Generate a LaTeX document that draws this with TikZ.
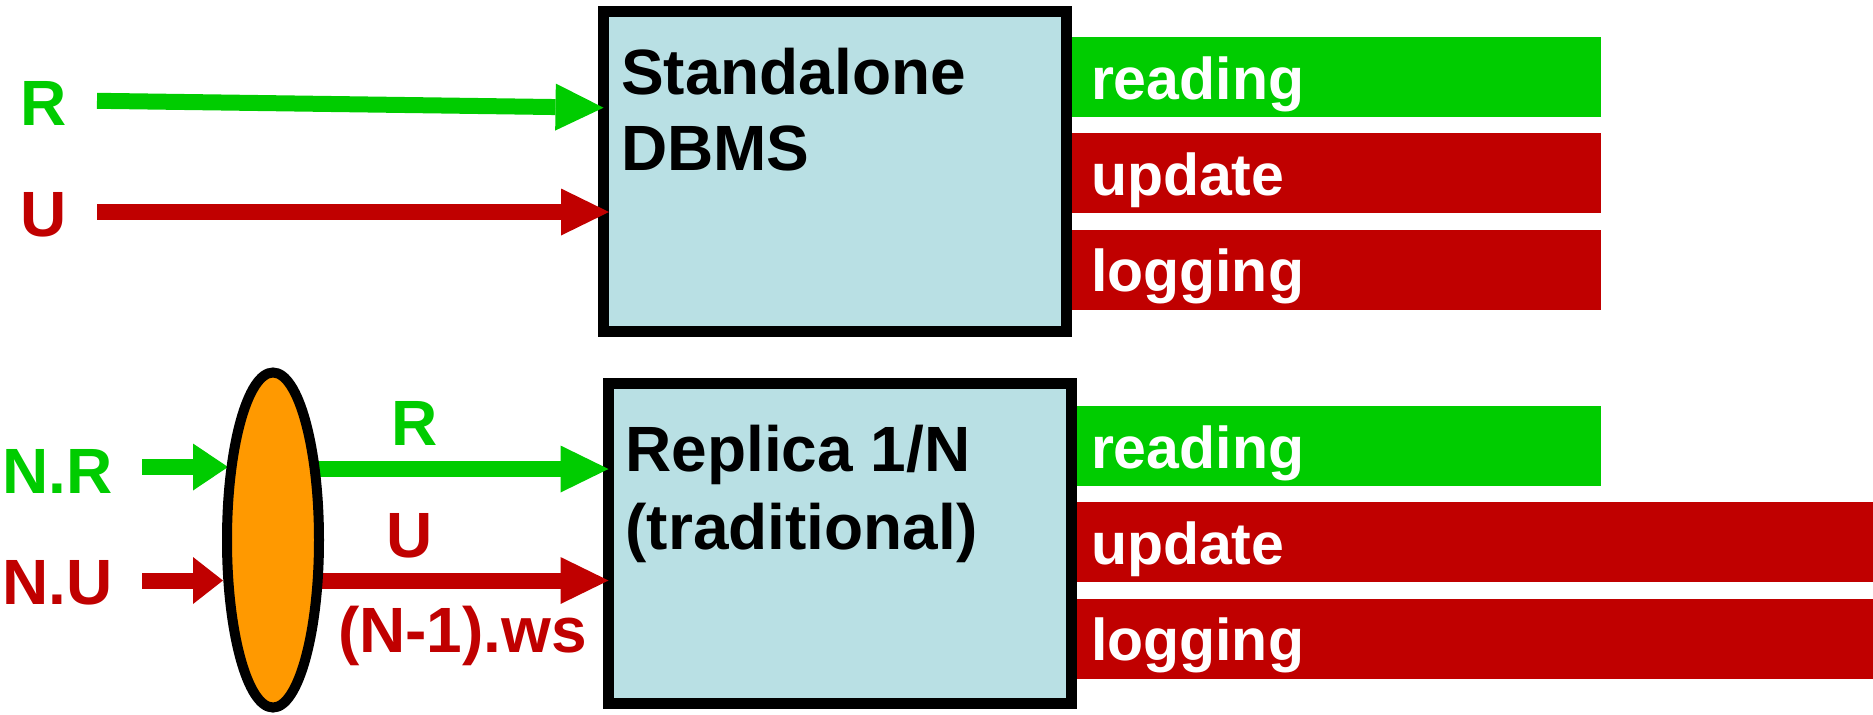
\documentclass[tikz,border=0pt]{standalone}
\usepackage{fontspec}
\setmainfont{Liberation Sans}
\usetikzlibrary{arrows.meta,shapes.geometric,calc}
\definecolor{okgreen}{RGB}{0,204,0}
\definecolor{darkred}{RGB}{192,0,0}
\definecolor{paleblue}{RGB}{185,224,228}
\definecolor{amber}{RGB}{255,153,0}

\begin{document}
\begin{tikzpicture}[x=0.5pt,y=-0.5pt,
  lbl/.style={anchor=base west, inner sep=0pt, outer sep=0pt,
    font=\fontsize{32}{38}\selectfont\bfseries},
  bartxt/.style={anchor=base west, inner sep=0pt, outer sep=0pt, text=white,
    font=\fontsize{29.5}{35}\selectfont\bfseries},
  dbbox/.style={rectangle, draw=black, line width=5.5pt, fill=paleblue,
    inner sep=0pt, outer sep=0pt, anchor=north west, minimum width=231.5pt},
  bar/.style={rectangle, inner sep=0pt, outer sep=0pt, anchor=north west,
    minimum height=40pt},
  flow/.style={line width=8pt, draw=#1,
    -{Triangle[length=24pt,width=23.5pt,line width=0pt]}},
  inflow/.style 2 args={line width=8pt, draw=#1,
    -{Triangle[length=#2,width=23.5pt,line width=0pt]}},
]
\useasboundingbox (0,0) rectangle (1873,714);

% ---- standalone DBMS ----
\node[bar, fill=okgreen, minimum width=264.5pt] (sread) at (1072,37.4) {};
\node[bar, fill=darkred, minimum width=264.5pt] (supd) at (1072,133.3) {};
\node[bar, fill=darkred, minimum width=264.5pt] (slog) at (1072,229.5) {};
\node[bartxt] (sreadt) at ($(sread.north west)+(19,62)$) {reading};
\node[bartxt] (supdt) at ($(supd.north west)+(19,62)$) {update};
\node[bartxt] (slogt) at ($(slog.north west)+(19,62)$) {logging};

\node[dbbox, minimum height=160pt] (sa) at (603.5,11.5) {};
\node[lbl] (saA) at (621,94) {Standalone};
\node[lbl] (saB) at (621,170) {DBMS};

\node[lbl, text=okgreen] (rlab) at (20,125) {R};
\node[lbl, text=darkred] (ulab) at (20,236) {U};

\coordinate (rin) at (97,100.8);
\coordinate (uin) at (97,212);
\draw[flow=okgreen] (rin) -- ($(sa.north west)+(0,96.2)$);
\draw[flow=darkred] (uin) -- ($(sa.north west)+(5.5,200.5)$);

% ---- replica ----
\node[bar, fill=okgreen, minimum width=262.5pt] (rread) at (1076,406) {};
\node[bar, fill=darkred, minimum width=398.5pt] (rupd) at (1076,502) {};
\node[bar, fill=darkred, minimum width=398.5pt] (rlog) at (1076,598.5) {};
\node[bartxt] (rreadt) at ($(rread.north west)+(15,62)$) {reading};
\node[bartxt] (rupdt) at ($(rupd.north west)+(15,62)$) {update};
\node[bartxt] (rlogt) at ($(rlog.north west)+(15,62)$) {logging};

\node[dbbox, minimum height=159.75pt] (rp) at (608.5,383.5) {};
\node[lbl] (rpA) at (625.5,471.7) {Replica 1/N};
\node[lbl] (rpB) at (625.5,549) {(traditional)};

\node[lbl, text=okgreen] (nrlab) at (2.3,493) {N.R};
\node[lbl, text=darkred] (nulab) at (2.3,604) {N.U};
\node[lbl, text=okgreen] (rmid) at (391.3,445) {R};
\node[lbl, text=darkred] (umid) at (386.3,557) {U};
\node[lbl, text=darkred] (ws) at (338,652) {(N-1).ws};

\coordinate (hub) at (273,540);
\coordinate (nrin) at (142,467);
\coordinate (nrend) at (228,467);
\coordinate (nuin) at (142,580.5);
\coordinate (nuend) at (223,580.5);
\coordinate (rout) at (273,469);
\coordinate (uout) at (273,580.5);

\draw[inflow={okgreen}{17.5pt}] (nrin) -- (nrend);
\draw[inflow={darkred}{15pt}] (nuin) -- (nuend);
\draw[flow=okgreen] (rout) -- ($(rp.north west)+(0,85.5)$);
\draw[flow=darkred] (uout) -- ($(rp.north west)+(0,197)$);

\node[ellipse, draw=black, line width=5pt, fill=amber, inner sep=0pt,
  outer sep=0pt, minimum width=46pt, minimum height=167.5pt] (split) at (hub) {};
\end{tikzpicture}
\end{document}
